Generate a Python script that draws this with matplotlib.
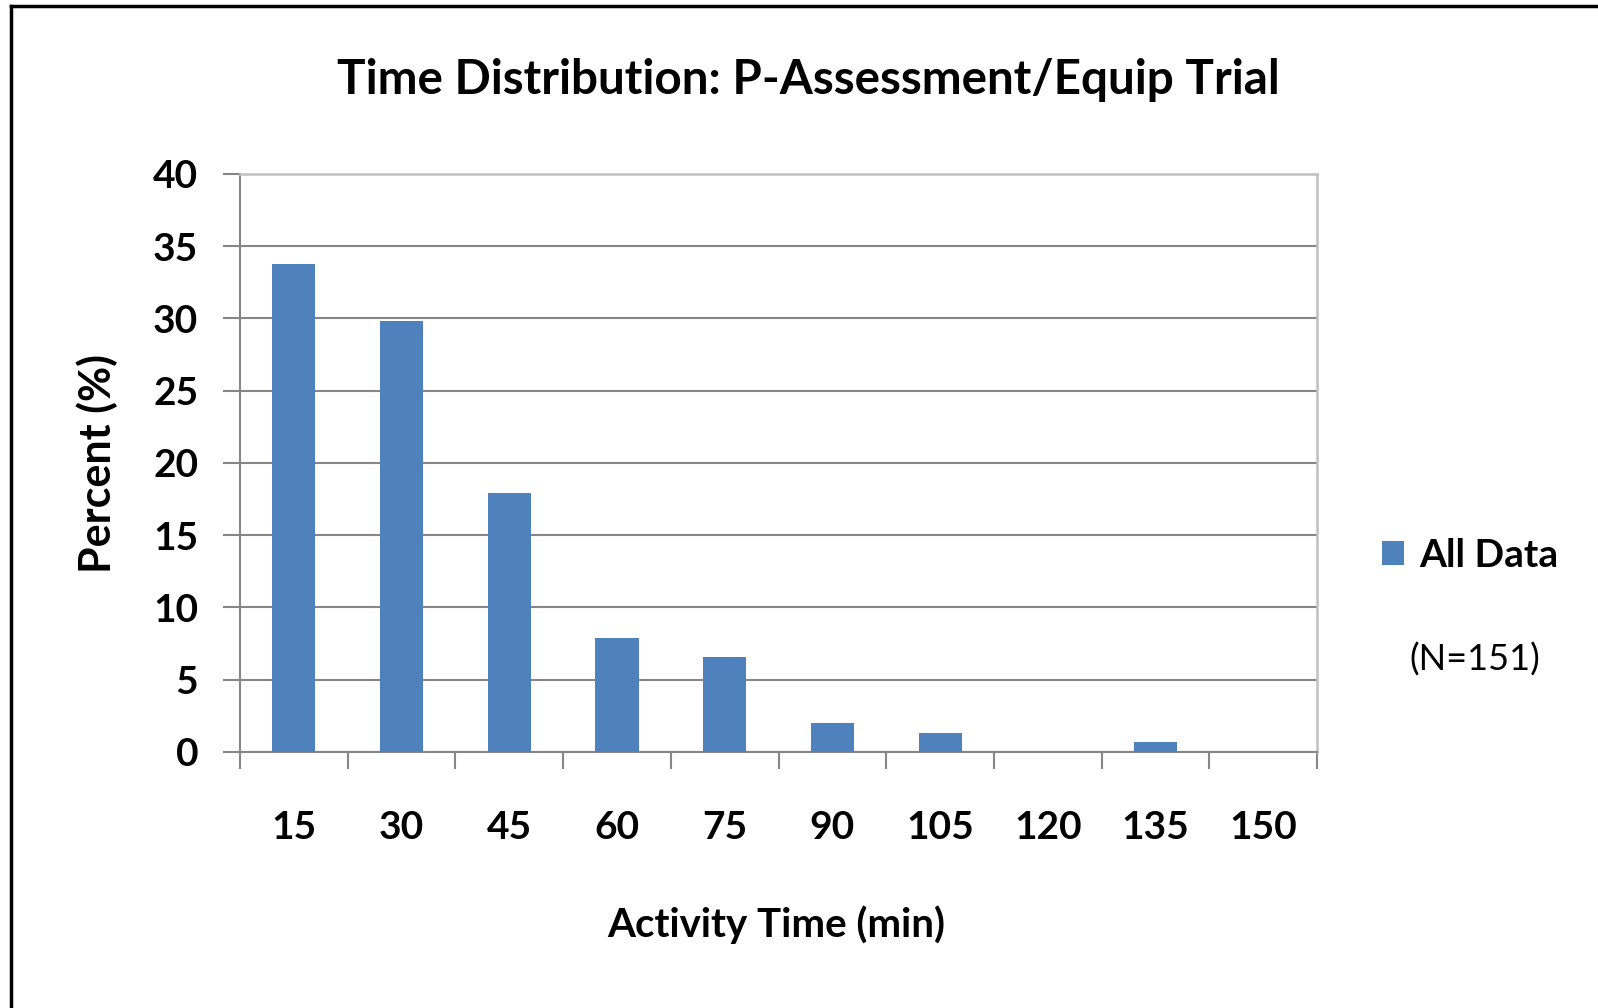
import matplotlib
matplotlib.use("Agg")
import matplotlib.pyplot as plt
from matplotlib.lines import Line2D
import numpy as np

# data (N=151)
time_bins = ["15", "30", "45", "60", "75", "90", "105", "120", "135", "150"]
percent = [33.8, 29.8, 17.9, 7.9, 6.6, 2.0, 1.3, 0.0, 0.66, 0.0]
y_ticks = [0, 5, 10, 15, 20, 25, 30, 35, 40]

plt.rcParams['font.family'] = ['Lato', 'DejaVu Sans']

fig = plt.figure(figsize=(15.98, 10.08), dpi=100)
ax = fig.add_axes([0.1502, 0.254, 0.674, 0.5734])

x = np.arange(len(time_bins))
bars = ax.bar(x, percent, width=0.4, color='#4F81BD', zorder=3, label='All Data')

ax.set_xlim(-0.5, len(time_bins) - 0.5)
ax.set_ylim(0, 40)

# grid + spines
ax.set_yticks(y_ticks)
ax.set_yticklabels([str(v) for v in y_ticks], fontsize=28, fontweight='bold')
ax.yaxis.grid(True, color='#868686', linewidth=1.5, zorder=0)
ax.tick_params(axis='y', length=12, width=1.5, color='#868686', pad=18)

ax.set_xticks(x)
ax.set_xticklabels(time_bins, fontsize=28, fontweight='bold')
ax.set_xticks(np.arange(-0.5, len(time_bins)), minor=True)
ax.tick_params(axis='x', which='major', length=0, pad=42)
ax.tick_params(axis='x', which='minor', length=12, width=1.5, color='#868686')

for side in ['left', 'bottom']:
    ax.spines[side].set_color('#868686')
    ax.spines[side].set_linewidth(1.5)
for side in ['top', 'right']:
    ax.spines[side].set_color('#c0c0c0')
    ax.spines[side].set_linewidth(1.8)

# titles
fig.text(0.506, 0.921, "Time Distribution: P-Assessment/Equip Trial",
         ha='center', va='center', fontsize=34.3, fontweight='bold')
fig.text(0.061, 0.540, "Percent (%)", rotation=90, ha='center', va='center',
         fontsize=31, fontweight='bold')
fig.text(0.486, 0.083, "Activity Time (min)", ha='center', va='center',
         fontsize=29, fontweight='bold')

# legend + note
fig.legend(handles=[bars], loc='center left', bbox_to_anchor=(0.843, 0.449),
           frameon=False, prop={'weight': 'bold', 'size': 28},
           handlelength=0.55, handleheight=0.55, handletextpad=0.4)
fig.text(0.923, 0.346, "(N=151)", ha='center', va='center', fontsize=26)

# outer frame (only top and left edges visible)
fig.add_artist(Line2D([0.0069, 0.0069], [0.0, 0.9945], color='black', linewidth=2.5,
                      transform=fig.transFigure))
fig.add_artist(Line2D([0.0069, 1.0], [0.9945, 0.9945], color='black', linewidth=2.5,
                      transform=fig.transFigure))

fig.savefig("out.png", dpi=100)
